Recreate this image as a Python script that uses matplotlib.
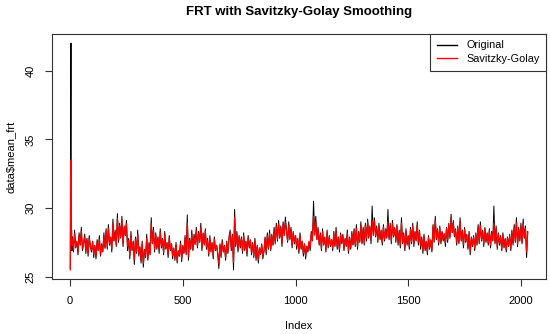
import numpy as np
import matplotlib
matplotlib.use("Agg")
import matplotlib.pyplot as plt

plt.rcParams['font.family'] = ['Liberation Sans', 'DejaVu Sans']

# ---- data ----
# first 9 samples (index 1..9)
orig_head = [25.6, 30.8, 36.5, 42.0, 29.4, 27.1, 28.4, 26.9, 27.7]
smooth_head = [25.5, 31.7, 33.5, 30.9, 29.0, 28.0, 27.6, 27.3, 27.6]
tail_start = 10
tail_step = 5
orig_tail = [
    27.9, 26.8, 28.4, 27.1, 27.6, 26.6, 28.2, 27.3, 28.6, 26.9,
    27.5, 28.1, 26.7, 27.8, 26.5, 28.0, 27.2, 26.8, 27.6, 26.4,
    27.3, 26.3, 27.7, 26.9, 28.0, 26.5, 27.4, 26.8, 28.2, 27.1,
    28.5, 27.0, 28.8, 27.3, 27.9, 26.8, 29.2, 27.6, 28.4, 27.2,
    29.6, 27.5, 28.9, 27.8, 29.4, 27.2, 28.7, 28.0, 29.1, 26.9,
    27.8, 26.3, 28.3, 26.9, 27.6, 25.9, 27.9, 26.7, 28.4, 26.5,
    27.2, 26.0, 27.6, 25.7, 27.0, 26.4, 28.1, 26.2, 27.5, 26.6,
    29.3, 27.4, 28.6, 26.8, 28.2, 27.0, 27.9, 26.7, 28.5, 27.1,
    27.8, 26.6, 28.3, 27.0, 27.5, 26.4, 28.0, 26.9, 27.4, 26.3,
    27.1, 26.2, 27.5, 26.0, 26.9, 26.5, 27.6, 26.1, 27.3, 26.7,
    28.0, 26.6, 29.5, 26.2, 27.8, 27.0, 28.4, 26.9, 28.1, 27.4,
    28.6, 27.1, 28.3, 27.5, 28.9, 26.9, 28.2, 27.3, 28.5, 27.0,
    27.8, 26.5, 28.0, 26.8, 27.5, 26.3, 27.9, 26.9, 27.3, 26.6,
    25.6, 27.4, 26.4, 27.7, 26.8, 27.3, 26.2, 27.6, 26.7, 27.9,
    28.4, 26.9, 28.1, 25.5, 29.9, 27.2, 28.3, 26.8, 28.0, 27.1,
    27.9, 26.7, 28.2, 26.9, 27.6, 26.5, 28.0, 27.1, 27.7, 26.6,
    27.5, 26.4, 27.8, 26.2, 27.3, 26.0, 27.1, 26.6, 27.4, 26.3,
    26.8, 27.9, 26.6, 28.2, 27.0, 28.4, 26.9, 28.1, 27.3, 28.6,
    27.4, 28.9, 27.6, 29.1, 27.8, 28.7, 27.2, 29.0, 28.0, 29.35,
    28.4, 27.5, 29.0, 27.7, 28.6, 27.1, 28.3, 27.4, 28.0, 27.0,
    27.8, 26.7, 28.2, 27.0, 27.6, 26.5, 27.4, 26.3, 27.2, 26.8,
    27.5, 26.9, 28.3, 27.6, 30.5, 28.1, 29.4, 27.7, 28.6, 27.3,
    28.2, 26.9, 28.5, 27.3, 27.9, 26.8, 28.4, 27.1, 28.0, 27.2,
    27.7, 26.9, 28.3, 27.2, 28.6, 27.0, 27.9, 26.8, 28.2, 27.4,
    28.1, 26.9, 27.8, 27.2, 28.4, 26.7, 27.9, 27.0, 28.3, 27.3,
    28.5, 27.2, 28.8, 27.0, 28.3, 27.5, 29.0, 27.4, 28.6, 27.3,
    28.9, 27.6, 29.2, 27.8, 28.7, 27.4, 30.15, 28.0, 29.3, 27.9,
    28.7, 27.5, 28.9, 27.7, 28.4, 27.3, 28.8, 27.6, 28.5, 27.8,
    29.9, 27.7, 28.9, 27.4, 29.1, 27.9, 28.6, 27.5, 28.8, 27.3,
    28.4, 27.1, 29.3, 27.4, 28.2, 26.9, 28.5, 27.3, 28.0, 27.0,
    28.6, 27.4, 28.9, 27.2, 28.3, 27.6, 29.0, 27.3, 28.4, 27.0,
    27.9, 26.7, 28.1, 26.9, 27.6, 26.6, 28.0, 27.0, 27.7, 26.8,
    28.8, 27.5, 29.4, 27.7, 28.5, 27.3, 28.7, 27.4, 28.3, 27.6,
    28.1, 27.2, 28.6, 27.5, 28.9, 27.8, 29.55, 28.2, 29.1, 27.9,
    28.5, 27.3, 28.7, 27.4, 29.3, 27.6, 28.4, 27.1, 28.6, 27.5,
    28.1, 27.0, 28.3, 26.6, 27.9, 27.2, 28.0, 26.9, 28.2, 27.3,
    28.8, 27.4, 29.0, 27.6, 28.4, 27.2, 28.6, 27.5, 28.2, 27.3,
    28.5, 27.1, 28.3, 27.6, 30.15, 27.4, 28.7, 27.0, 28.2, 27.3,
    28.0, 26.9, 28.2, 27.1, 27.8, 26.8, 27.9, 27.2, 28.1, 26.9,
    28.4, 27.3, 28.8, 27.5, 29.3, 27.2, 28.6, 27.6, 28.9, 27.4,
    29.2, 27.8, 28.7, 26.4, 28.3,
]
smooth_tail = [
    27.78, 26.95, 28.15, 27.18, 27.55, 26.8, 28.0, 27.33, 28.3, 27.03,
    27.45, 27.9, 26.85, 27.68, 26.7, 27.83, 27.23, 26.93, 27.53, 26.63,
    27.23, 26.48, 27.53, 26.93, 27.75, 26.63, 27.3, 26.85, 27.9, 27.08,
    28.3, 27.18, 28.53, 27.4, 27.85, 27.03, 28.83, 27.63, 28.23, 27.33,
    29.25, 27.68, 28.73, 27.9, 29.1, 27.45, 28.58, 28.05, 28.88, 27.23,
    27.65, 26.53, 28.03, 26.98, 27.5, 26.23, 27.73, 26.83, 28.1, 26.68,
    27.1, 26.2, 27.4, 25.98, 26.95, 26.5, 27.78, 26.35, 27.33, 26.65,
    28.88, 27.45, 28.35, 27.0, 28.05, 27.15, 27.83, 26.93, 28.28, 27.23,
    27.68, 26.78, 28.05, 27.08, 27.45, 26.63, 27.83, 27.0, 27.38, 26.55,
    27.03, 26.35, 27.33, 26.2, 26.88, 26.58, 27.4, 26.28, 27.18, 26.73,
    27.8, 26.75, 28.93, 26.45, 27.65, 27.05, 28.1, 26.98, 27.88, 27.35,
    28.38, 27.25, 28.15, 27.55, 28.6, 27.1, 28.08, 27.4, 28.3, 27.18,
    27.65, 26.68, 27.8, 26.9, 27.43, 26.53, 27.73, 26.98, 27.28, 26.75,
    25.95, 27.3, 26.55, 27.53, 26.85, 27.23, 26.4, 27.45, 26.78, 27.68,
    28.2, 27.08, 27.98, 26.03, 29.33, 27.3, 28.13, 27.0, 27.9, 27.23,
    27.78, 26.88, 28.0, 27.03, 27.55, 26.73, 27.85, 27.18, 27.63, 26.8,
    27.38, 26.55, 27.6, 26.4, 27.23, 26.25, 27.08, 26.7, 27.3, 26.48,
    26.95, 27.78, 26.8, 28.0, 27.1, 28.15, 27.03, 27.93, 27.33, 28.3,
    27.58, 28.7, 27.73, 28.85, 27.88, 28.55, 27.43, 28.78, 28.03, 28.98,
    28.3, 27.63, 28.75, 27.78, 28.45, 27.33, 28.23, 27.55, 28.0, 27.25,
    27.68, 26.85, 27.98, 27.08, 27.53, 26.7, 27.38, 26.55, 27.23, 26.93,
    27.58, 27.13, 28.18, 27.65, 29.4, 28.03, 29.0, 27.73, 28.4, 27.43,
    28.05, 27.08, 28.28, 27.38, 27.83, 27.0, 28.2, 27.23, 27.9, 27.3,
    27.68, 27.08, 28.13, 27.3, 28.35, 27.15, 27.83, 27.0, 28.05, 27.45,
    27.95, 27.05, 27.73, 27.28, 28.18, 26.9, 27.8, 27.13, 28.1, 27.35,
    28.33, 27.35, 28.55, 27.2, 28.18, 27.58, 28.7, 27.5, 28.4, 27.43,
    28.75, 27.78, 28.98, 27.93, 28.6, 27.63, 29.1, 28.08, 29.05, 28.0,
    28.55, 27.65, 28.7, 27.8, 28.33, 27.5, 28.63, 27.73, 28.4, 27.88,
    29.0, 27.83, 28.73, 27.6, 28.88, 27.98, 28.5, 27.68, 28.65, 27.53,
    28.25, 27.28, 28.93, 27.5, 28.1, 27.13, 28.33, 27.43, 27.95, 27.2,
    28.45, 27.55, 28.68, 27.4, 28.23, 27.7, 28.75, 27.48, 28.3, 27.25,
    27.78, 26.88, 27.93, 27.03, 27.55, 26.8, 27.85, 27.1, 27.63, 26.95,
    28.63, 27.65, 29.08, 27.8, 28.4, 27.5, 28.55, 27.58, 28.25, 27.73,
    28.15, 27.48, 28.53, 27.7, 28.75, 27.93, 29.23, 28.23, 28.9, 28.0,
    28.38, 27.48, 28.53, 27.55, 28.98, 27.7, 28.3, 27.33, 28.45, 27.63,
    27.98, 27.15, 28.13, 26.85, 27.83, 27.3, 27.9, 27.08, 28.05, 27.38,
    28.6, 27.55, 28.75, 27.7, 28.3, 27.4, 28.45, 27.63, 28.15, 27.48,
    28.33, 27.28, 28.18, 27.65, 28.9, 27.5, 28.48, 27.2, 28.1, 27.43,
    27.88, 27.05, 28.03, 27.2, 27.73, 26.98, 27.8, 27.28, 27.95, 27.05,
    28.28, 27.45, 28.58, 27.6, 28.95, 27.38, 28.43, 27.68, 28.65, 27.53,
    28.9, 27.85, 28.53, 26.8, 28.23,
]
x_ticks = [0, 500, 1000, 1500, 2000]
y_ticks = [25, 30, 35, 40]
title = "FRT with Savitzky-Golay Smoothing"
x_label = "Index"
y_label = "data\\$mean_frt"
legend_labels = ["Original", "Savitzky-Golay"]

# ---- assemble index positions ----
orig = np.array(orig_head + orig_tail)
smooth = np.array(smooth_head + smooth_tail)
idx_head = np.arange(1, len(orig_head) + 1)
idx_tail = tail_start + tail_step * np.arange(len(orig_tail))
idx = np.concatenate([idx_head, idx_tail])

fig = plt.figure(figsize=(5.5, 3.34), dpi=100)
ax = fig.add_axes([52 / 550, 1 - 279 / 334, (546 - 52) / 550, (279 - 34) / 334])

ax.plot(idx, orig, color='black', lw=0.7, label=legend_labels[0])
ax.plot(idx, smooth, color='red', lw=0.9, label=legend_labels[1])

n0, n1 = idx.min(), idx.max()
dx = 0.04 * (n1 - n0)
ax.set_xlim(n0 - dx, n1 + dx)
lo = min(orig.min(), smooth.min())
hi = max(orig.max(), smooth.max())
dy = 0.04 * (hi - lo)
ax.set_ylim(lo - dy, hi + dy)

ax.set_xticks(x_ticks)
ax.set_yticks(y_ticks)
ax.set_xticklabels([str(v) for v in x_ticks], fontsize=8)
ax.set_yticklabels([str(v) for v in y_ticks], fontsize=8, rotation=90, va='center')
ax.tick_params(direction='out', length=5, width=0.8, color='#333333', pad=7)
for s in ax.spines.values():
    s.set_color('#333333')
    s.set_linewidth(0.8)

ax.set_xlabel(x_label, fontsize=8, labelpad=11)
ax.set_ylabel(y_label, fontsize=8, labelpad=7)
ax.set_title(title, fontsize=9.5, fontweight='bold', pad=14)

leg = ax.legend(loc='upper right', borderaxespad=0, fancybox=False, framealpha=1,
                edgecolor='#333333', fontsize=7.8, handlelength=1.9, handletextpad=0.8,
                borderpad=0.6, labelspacing=0.35)
leg.get_frame().set_linewidth(0.8)
for line in leg.get_lines():
    line.set_linewidth(1.0)

fig.savefig('out.png', dpi=100)
